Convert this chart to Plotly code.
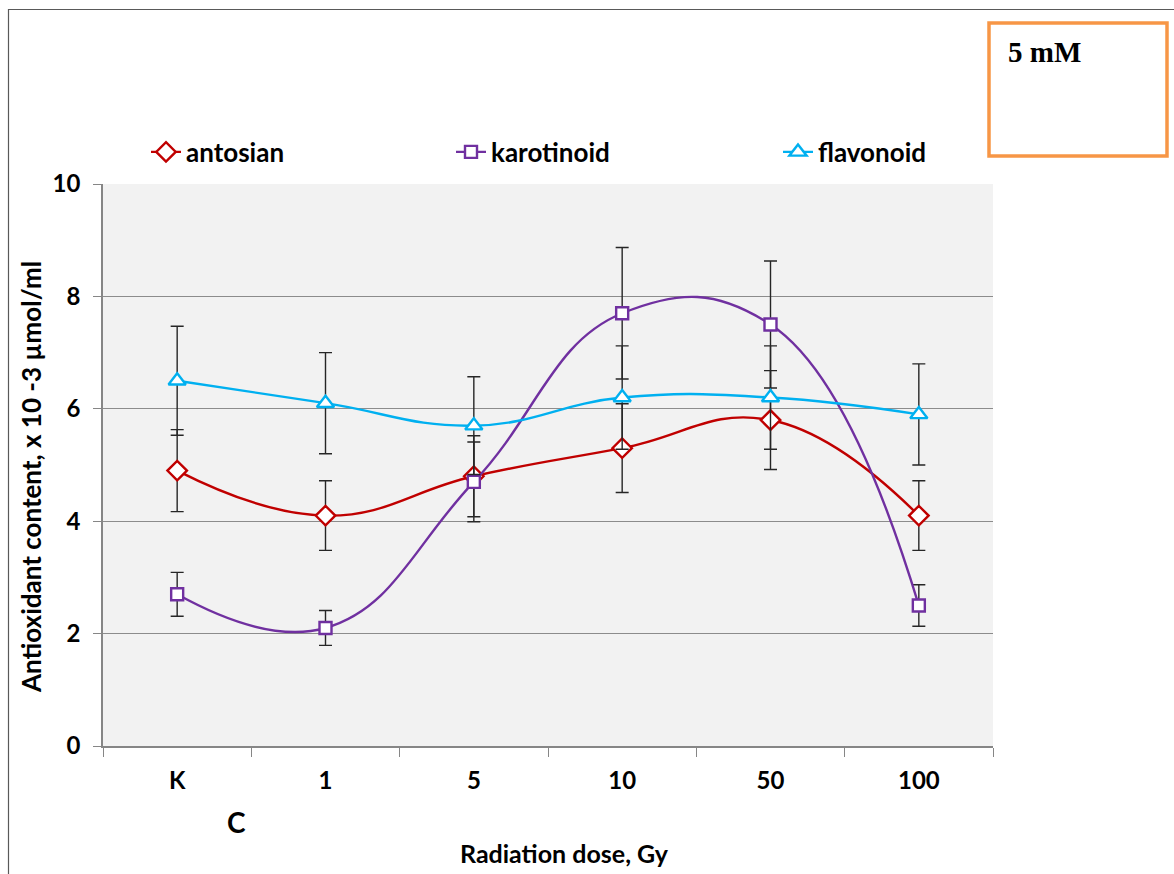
import plotly.graph_objects as go

categories = ["K", "1", "5", "10", "50", "100"]
antosian = [4.9, 4.1, 4.8, 5.3, 5.8, 4.1]
antosian_err = [0.73, 0.62, 0.72, 0.79, 0.88, 0.62]
karotinoid = [2.7, 2.1, 4.7, 7.7, 7.5, 2.5]
karotinoid_err = [0.39, 0.31, 0.71, 1.17, 1.13, 0.37]
flavonoid = [6.5, 6.1, 5.7, 6.2, 6.2, 5.9]
flavonoid_err = [0.97, 0.9, 0.87, 0.92, 0.92, 0.9]
y_ticks = [0, 2, 4, 6, 8, 10]

FONT = "Lato"
W, H = 1174, 874
L, R, T, B = 103, 993, 184, 746


def px(x):
    return (x - L) / (R - L)


def py(y):
    return (B - y) / (B - T)


series = [
    ("antosian", antosian, antosian_err, "#c00000", "diamond", 15, "legend"),
    ("karotinoid", karotinoid, karotinoid_err, "#7030a0", "square", 12, "legend2"),
    ("flavonoid", flavonoid, flavonoid_err, "#00b0f0", "triangle-up", 15, "legend3"),
]

fig = go.Figure()
for name, vals, err, col, sym, size, lg in series:
    fig.add_trace(go.Scatter(
        x=categories, y=vals, name=name, mode="lines+markers",
        line=dict(color=col, width=2.4, shape="spline", smoothing=1.25),
        marker=dict(symbol=sym, size=size, color="white", line=dict(color=col, width=2.4)),
        error_y=dict(type="data", array=err, visible=True, color="#262626", thickness=1.4, width=6.5),
        legend=lg,
    ))

legend_common = dict(orientation="h", yanchor="middle", y=py(152), xanchor="left",
                     bgcolor="rgba(0,0,0,0)", font=dict(family=FONT, size=26, color="#000000", weight="bold"),
                     itemwidth=30, tracegroupgap=0)

fig.update_layout(
    width=W, height=H,
    margin=dict(l=L, r=W - R, t=T, b=H - B),
    paper_bgcolor="white", plot_bgcolor="#f2f2f2",
    font=dict(family=FONT, size=24, color="#000000", weight="bold"),
    legend=dict(x=px(146), **legend_common),
    legend2=dict(x=px(451), **legend_common),
    legend3=dict(x=px(778), **legend_common),
    xaxis=dict(
        type="category", tickmode="array", tickvals=categories, ticktext=categories,
        tickson="boundaries", ticks="outside", ticklen=9, tickcolor="#868686",
        showline=True, linecolor="#868686", linewidth=1.5, showgrid=False,
        tickfont=dict(family=FONT, size=24, weight="bold"), ticklabelstandoff=12,
        range=[-0.5, 5.5],
    ),
    yaxis=dict(
        range=[0, 10], tickvals=y_ticks, ticks="outside", ticklen=8, tickcolor="#868686",
        showline=True, linecolor="#868686", linewidth=1.5,
        showgrid=True, gridcolor="#8c8c8c", gridwidth=1.2, zeroline=False,
        tickfont=dict(family=FONT, size=24, weight="bold"), ticklabelstandoff=8,
    ),
    showlegend=True,
)

fig.add_annotation(text="Radiation dose, Gy", xref="paper", yref="paper",
                   x=px(564), y=py(853), xanchor="center", yanchor="middle", showarrow=False,
                   font=dict(family=FONT, size=25, weight="bold"))
fig.add_annotation(text="Antioxidant content, x 10 -3 µmol/ml", xref="paper", yref="paper",
                   x=px(31), y=py(477), xanchor="center", yanchor="middle", showarrow=False, textangle=-90,
                   font=dict(family=FONT, size=26, weight="bold"))
fig.add_annotation(text="C", xref="paper", yref="paper",
                   x=px(236), y=py(822), xanchor="center", yanchor="middle", showarrow=False,
                   font=dict(family=FONT, size=28, weight="bold"))
fig.add_annotation(text="5 mM", xref="paper", yref="paper",
                   x=px(1006), y=py(52), xanchor="left", yanchor="middle", showarrow=False,
                   font=dict(family="Liberation Serif", size=29, weight="bold"))

fig.add_shape(type="rect", xref="paper", yref="paper",
              x0=px(8.5), x1=px(1200), y0=py(900), y1=py(9.5),
              line=dict(color="#595959", width=1.2), layer="below")
fig.add_shape(type="rect", xref="paper", yref="paper",
              x0=px(989), x1=px(1167), y0=py(156), y1=py(23),
              line=dict(color="#f79646", width=3.5))

fig.write_html("out.html")
